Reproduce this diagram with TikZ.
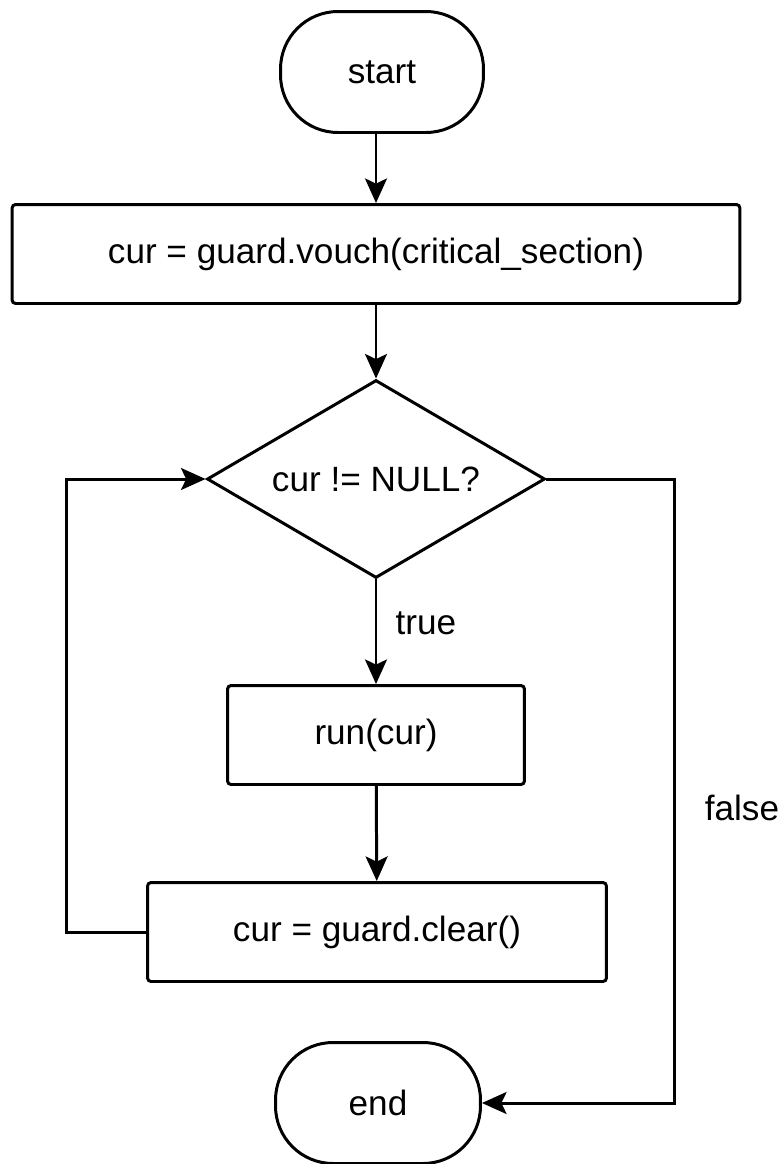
\documentclass[tikz,border=0pt]{standalone}
\usepackage{fontspec}
\setmainfont{Liberation Sans}
\usetikzlibrary{shapes.geometric,arrows.meta}

\tikzset{
  flow/.style={draw, line width=1.7pt, align=center, inner sep=0pt,
    font=\fontsize{20}{24}\selectfont},
  terminal/.style={flow, rounded corners=1.15cm, minimum width=4.06cm, minimum height=2.42cm},
  process/.style={flow, rounded corners=2pt, minimum height=1.98cm},
  decision/.style={flow, diamond, aspect=1.7, minimum width=6.76cm, minimum height=3.96cm},
  line/.style={line width=1.7pt, -{Stealth[length=14pt,width=12.5pt,inset=3pt]}},
  tag/.style={font=\fontsize{20}{24}\selectfont},
}

\begin{document}
\begin{tikzpicture}[x=0.02cm,y=-0.02cm]
	\useasboundingbox (0,0) rectangle (780,1164);

	% nodes
	\node (start) at (382,72) [terminal] {start};
	\node (vouch) at (376,254) [process, minimum width=14.56cm] {cur = guard.vouch(critical\_section)};
	\node (test) at (376,479) [decision] {cur != NULL?};
	\node (run) at (376,735) [process, minimum width=5.94cm] {run(cur)};
	\node (clear) at (377,932) [process, minimum width=9.18cm] {cur = guard.clear()};
	\node (end) at (378,1103) [terminal, minimum width=4.1cm] {end};

	% connectors
	\draw[line] (start.south -| test) -- (vouch.north -| test);
	\draw[line] (vouch) -- (test);
	\draw[line] (test) -- (run);
	\draw[line] (run) -- (clear);
	\draw[line] (clear.west) -- ++(-80,0) |- (test.west);
	\draw[line] (test.east) -- ++(128,0) |- (end.east);

	% labels
	\node (truelabel) at (426,623) [tag] {true};
	\node (falselabel) at (742,808) [tag] {false};

\end{tikzpicture}
\end{document}
